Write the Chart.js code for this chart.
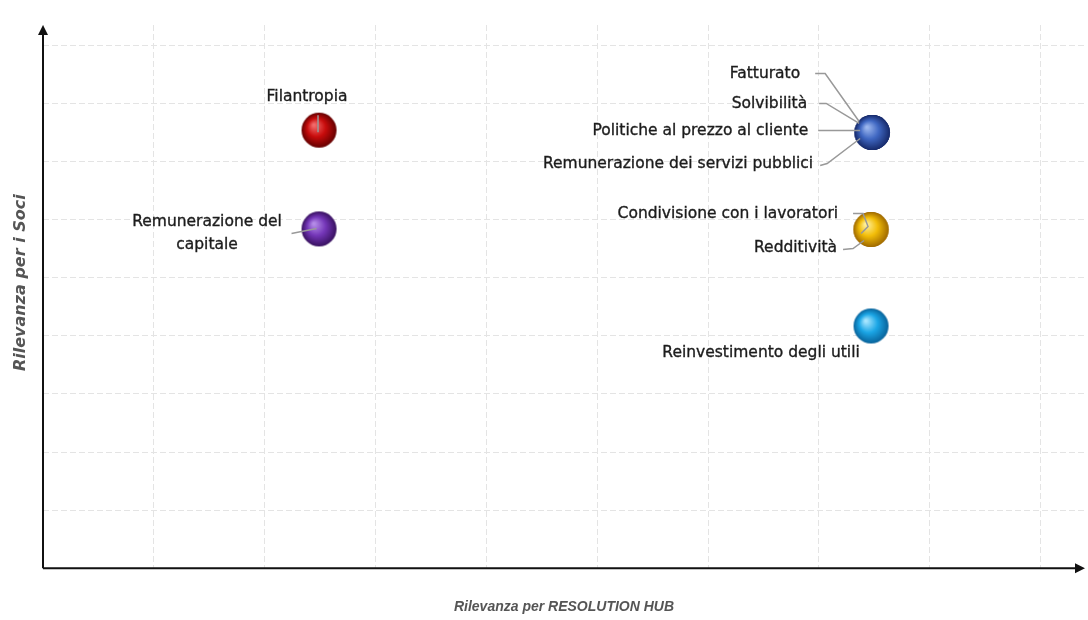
<!DOCTYPE html>
<html>
<head>
<meta charset="utf-8">
<script src="https://cdn.jsdelivr.net/npm/chart.js@4"></script>
<style>
  html, body { margin: 0; padding: 0; background: #fff; }
  #wrap { width: 1088px; height: 620px; }
</style>
</head>
<body>
<div id="wrap"><canvas id="matrice"></canvas></div>
<script>
// temi materiali e rilevanza
const temi = [
    "Filantropia",
    "Remunerazione del capitale",
    "Fatturato",
    "Solvibilità",
    "Politiche al prezzo al cliente",
    "Remunerazione dei servizi pubblici",
    "Condivisione con i lavoratori",
    "Redditività",
    "Reinvestimento degli utili"
];
const rilevanzaHub = [2.49, 2.49, 7.48, 7.48, 7.48, 7.48, 7.47, 7.47, 7.47];
const rilevanzaSoci = [7.54, 5.84, 7.5, 7.5, 7.5, 7.5, 5.83, 5.83, 4.17];
const gruppo = [0, 1, 2, 2, 2, 2, 3, 3, 4];

const titoloX = "Rilevanza per RESOLUTION HUB";
const titoloY = "Rilevanza per i Soci";

// colori delle sfere: [luce, medio, ombra]
const coloriSfere = [
    ["#f26a6a", "#c80c0c", "#640000"],
    ["#b58ce8", "#7436b8", "#38115f"],
    ["#9bb6ee", "#3f67c2", "#172b6c"],
    ["#fff09a", "#f2bd08", "#a06a00"],
    ["#a8e6ff", "#1ba6e6", "#08629a"]
];

function sfera(c) {
    const r = 17.5;
    const cv = document.createElement("canvas");
    cv.width = 37;
    cv.height = 37;
    const g = cv.getContext("2d");
    const cx = 18.5, cy = 18.5;
    const grad = g.createRadialGradient(cx - r * 0.3, cy - r * 0.3, 1, cx, cy, r);
    grad.addColorStop(0, c[0]);
    grad.addColorStop(0.5, c[1]);
    grad.addColorStop(1, c[2]);
    g.fillStyle = grad;
    g.beginPath();
    g.arc(cx, cy, r, 0, Math.PI * 2);
    g.fill();
    return cv;
}
const immagini = coloriSfere.map(sfera);

// posizione delle etichette rispetto al centro della sfera
const layoutEtichette = [
    { dx: -12, dy: -33, align: "center", leader: [[-1, -15], [-1, 2]] },
    { dx: -112, dy: -6.5, align: "center", righe: ["Remunerazione del", "capitale"], leader: [[-27.5, 4.5], [-2.5, -0.5]] },
    { dx: -72, dy: -59, align: "right", leader: [[-57, -59], [-47, -59], [-13, -11]] },
    { dx: -65, dy: -29, align: "right", leader: [[-53, -29], [-46, -29], [-13, -9]] },
    { dx: -64, dy: -2, align: "right", leader: [[-54, -2], [-12, -2]] },
    { dx: -59, dy: 31, align: "right", leader: [[-52, 33], [-45, 31], [-12, 6]] },
    { dx: -33, dy: -16, align: "right", leader: [[-18, -16], [-8, -16], [-3, -3], [-10, 4]] },
    { dx: -34, dy: 18, align: "right", leader: [[-28, 20], [-18, 19], [-7, 11]] },
    { dx: -110, dy: 27.5, align: "center", leader: null }
];

const etichettePlugin = {
    id: "etichette",
    afterDatasetsDraw(chart) {
        const ctx = chart.ctx;
        const meta = chart.getDatasetMeta(0);
        ctx.save();
        meta.data.forEach((pt, i) => {
            const l = layoutEtichette[i];
            if (l.leader) {
                ctx.strokeStyle = "#999";
                ctx.lineWidth = 1.5;
                ctx.beginPath();
                l.leader.forEach((p, k) => {
                    if (k === 0) ctx.moveTo(pt.x + p[0], pt.y + p[1]);
                    else ctx.lineTo(pt.x + p[0], pt.y + p[1]);
                });
                ctx.stroke();
            }
            ctx.fillStyle = "#1c1c1c";
            ctx.strokeStyle = "#1c1c1c";
            ctx.lineWidth = 0.35;
            ctx.font = "15.5px 'DejaVu Sans', sans-serif";
            ctx.textAlign = l.align;
            ctx.textBaseline = "middle";
            const righe = l.righe || [temi[i]];
            righe.forEach((t, k) => {
                ctx.fillText(t, pt.x + l.dx, pt.y + l.dy + k * 23);
                ctx.strokeText(t, pt.x + l.dx, pt.y + l.dy + k * 23);
            });
        });
        ctx.restore();
    }
};

const assiPlugin = {
    id: "assi",
    afterDraw(chart) {
        const { left, right, top, bottom } = chart.chartArea;
        const ctx = chart.ctx;
        ctx.save();
        ctx.strokeStyle = "#111";
        ctx.fillStyle = "#111";
        ctx.lineWidth = 2;
        ctx.beginPath();
        ctx.moveTo(left, bottom);
        ctx.lineTo(right - 6, bottom);
        ctx.moveTo(left, bottom);
        ctx.lineTo(left, top + 6);
        ctx.stroke();
        ctx.beginPath();
        ctx.moveTo(right, bottom);
        ctx.lineTo(right - 10, bottom - 5);
        ctx.lineTo(right - 10, bottom + 5);
        ctx.closePath();
        ctx.fill();
        ctx.beginPath();
        ctx.moveTo(left, top);
        ctx.lineTo(left - 5, top + 10);
        ctx.lineTo(left + 5, top + 10);
        ctx.closePath();
        ctx.fill();
        ctx.restore();
    }
};

const punti = rilevanzaHub.map((x, i) => ({ x: x, y: rilevanzaSoci[i] }));

new Chart(document.getElementById("matrice"), {
    type: "scatter",
    data: {
        labels: temi,
        datasets: [{
            data: punti,
            pointStyle: gruppo.map(g => immagini[g]),
            pointRadius: 17,
            pointHoverRadius: 17
        }]
    },
    options: {
        responsive: true,
        maintainAspectRatio: false,
        animation: false,
        layout: { autoPadding: false, padding: { top: 25, right: 3, bottom: 0, left: 0 } },
        plugins: {
            legend: { display: false },
            tooltip: { enabled: false }
        },
        scales: {
            x: {
                min: 0,
                max: 9.4,
                ticks: { display: false, stepSize: 1, includeBounds: false },
                grid: { color: "#e4e4e4", drawTicks: false, lineWidth: 1 },
                border: { display: false, dash: [6, 3] },
                title: {
                    display: true,
                    text: titoloX,
                    color: "#555",
                    font: { family: "'Liberation Sans', sans-serif", size: 14, style: "italic", weight: "bold" },
                    padding: { top: 31, bottom: 4 }
                }
            },
            y: {
                min: 0,
                max: 9.35,
                ticks: { display: false, stepSize: 1, includeBounds: false },
                grid: { color: "#e4e4e4", drawTicks: false, lineWidth: 1 },
                border: { display: false, dash: [6, 3] },
                title: {
                    display: true,
                    text: "     " + titoloY,
                    color: "#555",
                    font: { family: "'DejaVu Sans', sans-serif", size: 16, style: "italic", weight: "bold" },
                    padding: { top: 11, bottom: 12.8 }
                }
            }
        }
    },
    plugins: [etichettePlugin, assiPlugin]
});
</script>
</body>
</html>
